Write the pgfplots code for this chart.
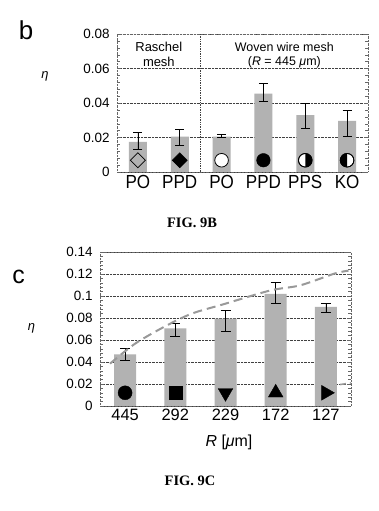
\documentclass[border=0pt]{standalone}
\usepackage{fontspec}
\setmainfont{Liberation Sans}
\newfontfamily\figserif{Liberation Serif}
\newfontfamily\cond[FakeStretch=0.9]{Liberation Sans}
\usepackage{pgfplots}
\pgfplotsset{compat=1.18}
\usepackage{pgfplotstable}

\pgfdeclareplotmark{halfright}{%
  \pgfpathcircle{\pgfpointorigin}{\pgfplotmarksize}%
  \pgfusepathqstroke
  \pgfpathmoveto{\pgfqpoint{0pt}{\pgfplotmarksize}}%
  \pgfpatharc{90}{-90}{\pgfplotmarksize}%
  \pgfpathclose
  \pgfusepathqfill
}
\pgfdeclareplotmark{halfleft}{%
  \pgfpathcircle{\pgfpointorigin}{\pgfplotmarksize}%
  \pgfusepathqstroke
  \pgfpathmoveto{\pgfqpoint{0pt}{\pgfplotmarksize}}%
  \pgfpatharc{90}{270}{\pgfplotmarksize}%
  \pgfpathclose
  \pgfusepathqfill
}

\pgfplotstableread{
x y ep em
0 0.0175 0.0056 0.0046
1 0.0205 0.0044 0.0053
2 0.0205 0.0012 0.0004
3 0.0455 0.0059 0.0047
4 0.0330 0.0065 0.0076
5 0.0296 0.0062 0.0089
}\datab

\pgfplotstableread{
x y ep em
0 0.0470 0.0050 0.0055
1 0.0705 0.0044 0.0071
2 0.0795 0.0075 0.0116
3 0.1020 0.0102 0.0089
4 0.0900 0.0030 0.0045
}\datac

\definecolor{barfill}{gray}{0.70}
\definecolor{curvegray}{gray}{0.60}

\pgfplotsset{
  common/.style={
    scale only axis,
    anchor=south west,
    axis line style={densely dotted, black!60},
    ymajorgrids,
    grid style={densely dotted, black!75, line width=0.7pt},
    minor y tick num=4,
    major tick length=4bp,
    minor tick length=3bp,
    ytick style={black!60},
    xtick style={draw=none},
    scaled y ticks=false,
    /pgf/number format/assume math mode=true,
    /pgf/number format/fixed,
    /pgf/number format/precision=2,
    yticklabel style={font=\fontsize{13.5}{14}\selectfont, xshift=-4bp},
    error bars/y dir=both,
    error bars/y explicit,
    error bars/error mark=-,
    error bars/error bar style={black, line width=0.8pt},
    clip=false,
  }
}

\begin{document}
\begin{tikzpicture}[x=1bp,y=1bp]
\path[fill=white, use as bounding box] (0,0) rectangle (378,511);

% ---------- panel b ----------
\begin{axis}[common,
  at={(117bp,339bp)}, width=251bp, height=138bp,
  xmin=-0.5, xmax=5.5, ymin=0, ymax=0.08,
  ytick={0,0.02,0.04,0.06,0.08},
  xtick={0,1,2,3,4,5},
  xticklabels={PO,PPD,PO,PPD,PPS,KO},
  xticklabel style={font=\cond\fontsize{19}{19}\selectfont},
  extra x ticks={1.5},
  extra x tick labels={},
  extra x tick style={xmajorgrids=true, grid style={densely dotted, black!75, line width=0.7pt}},
  error bars/error mark options={rotate=90, black, mark size=4.5bp, line width=0.8pt},
]
\addplot[ybar, bar width=18bp, bar shift=0pt, fill=barfill, draw=none,
  error bars/.cd, y dir=both, y explicit]
  table[x=x, y=y, y error plus=ep, y error minus=em] {\datab};
\addplot[only marks, mark=square, mark size=5.3bp, mark options={rotate=45, fill=white, draw=black, line width=0.8pt}]
  coordinates {(0,0.0068)};
\addplot[only marks, mark=square*, mark size=5.3bp, mark options={rotate=45, fill=black, draw=black}]
  coordinates {(1,0.0068)};
\addplot[only marks, mark=*, mark size=6.8bp, mark options={fill=white, draw=black, line width=0.8pt}]
  coordinates {(2,0.0068)};
\addplot[only marks, mark=*, mark size=6.8bp, mark options={fill=black, draw=black}]
  coordinates {(3,0.0068)};
\addplot[only marks, mark=*, mark size=6.8bp, mark options={fill=white, draw=black, line width=0.8pt}]
  coordinates {(4,0.0068) (5,0.0068)};
\addplot[only marks, mark=halfright, mark size=6.8bp, mark options={fill=black, draw=black, line width=0.8pt}]
  coordinates {(4,0.0068)};
\addplot[only marks, mark=halfleft, mark size=6.8bp, mark options={fill=black, draw=black, line width=0.8pt}]
  coordinates {(5,0.0068)};
\node[font=\fontsize{13}{13}\selectfont] at (axis cs:0.5,0.0724) {Raschel};
\node[font=\fontsize{13}{13}\selectfont] at (axis cs:0.5,0.0637) {mesh};
\node[font=\fontsize{12.5}{13}\selectfont] at (axis cs:3.5,0.0724) {Woven wire mesh};
\node[font=\fontsize{12.5}{13}\selectfont] at (axis cs:3.5,0.0637) {(\textit{R} = 445 \textit{μ}m)};
\end{axis}

\node[font=\fontsize{26}{26}\selectfont] at (26,481) {b};
\node[font=\fontsize{13}{13}\selectfont\itshape] at (45,435) {η};
\node[font=\figserif\bfseries\fontsize{14.5}{15}\selectfont] at (192,288) {FIG. 9B};

% ---------- panel c ----------
\begin{axis}[common,
  at={(100bp,105bp)}, width=251bp, height=154bp,
  xmin=-0.5, xmax=4.5, ymin=0, ymax=0.14,
  ytick={0,0.02,0.04,0.06,0.08,0.1,0.12,0.14},
  xtick={0,1,2,3,4},
  xticklabels={445,292,229,172,127},
  xticklabel style={font=\fontsize{16.5}{17}\selectfont},
  error bars/error mark options={rotate=90, black, mark size=5bp, line width=0.8pt},
]
\addplot[ybar, bar width=22bp, bar shift=0pt, fill=barfill, draw=none,
  error bars/.cd, y dir=both, y explicit]
  table[x=x, y=y, y error plus=ep, y error minus=em] {\datac};
\addplot[curvegray, line width=2bp, dash pattern=on 9bp off 5bp, smooth]
  coordinates {(-0.30,0.0385) (0.2,0.0567) (0.8,0.0725) (1.33,0.0840) (1.96,0.0925) (2.89,0.1050) (3.49,0.1097) (4.18,0.1205) (4.45,0.1230)};
\addplot[curvegray, line width=1.5bp, dash pattern=on 6bp off 4bp]
  coordinates {(4.28,0.0195) (4.5,0.0210)};
\addplot[only marks, mark=*, mark size=7bp, mark options={fill=black, draw=black}]
  coordinates {(0,0.012)};
\addplot[only marks, mark=square*, mark size=6.5bp, mark options={fill=black, draw=black}]
  coordinates {(1,0.012)};
\addplot[only marks, mark=triangle*, mark size=8.5bp, mark options={rotate=180, fill=black, draw=black}]
  coordinates {(2,0.012)};
\addplot[only marks, mark=triangle*, mark size=8.5bp, mark options={fill=black, draw=black}]
  coordinates {(3,0.012)};
\addplot[only marks, mark=triangle*, mark size=8.5bp, mark options={rotate=-90, fill=black, draw=black}]
  coordinates {(4,0.012)};
\end{axis}

\node[font=\fontsize{25}{25}\selectfont] at (18.5,234.5) {c};
\node[font=\fontsize{13}{13}\selectfont\itshape] at (31.5,183) {η};
\node[font=\fontsize{16}{16}\selectfont] at (229,69) {\textit{R} [\textit{μ}m]};
\node[font=\figserif\bfseries\fontsize{14.5}{15}\selectfont] at (190,30) {FIG. 9C};
\end{tikzpicture}
\end{document}
